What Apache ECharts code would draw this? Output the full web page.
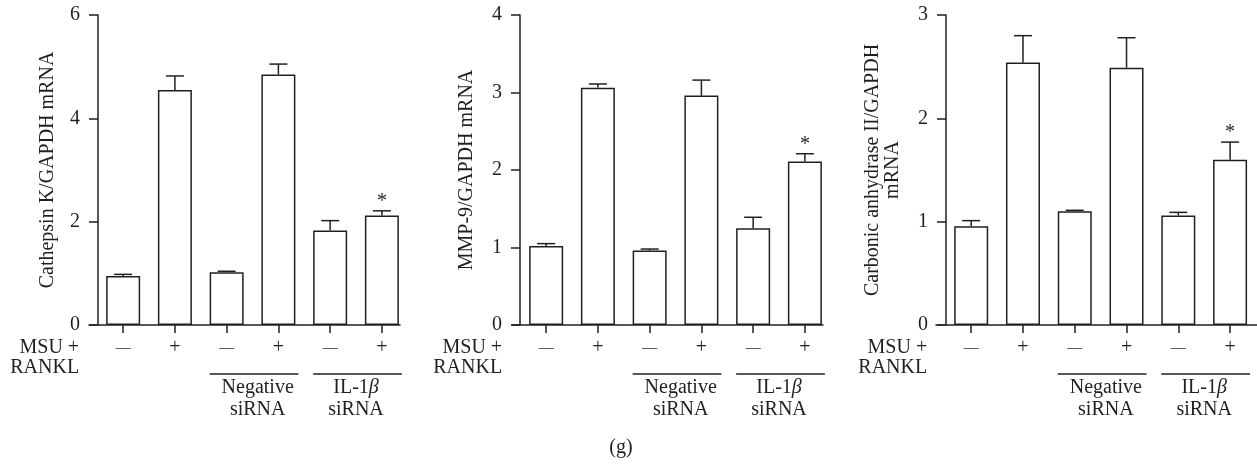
<!DOCTYPE html>
<html>
<head>
<meta charset="utf-8">
<script src="https://cdn.jsdelivr.net/npm/echarts@6/dist/echarts.min.js"></script>
<style>
  html, body { margin: 0; padding: 0; background: #fff; }
  #chart { width: 1257px; height: 465px; }
</style>
</head>
<body>
<div id="chart"></div>
<script>
// MSU + RANKL 处理 (每个面板6根柱子), m = 减号
var treatment = ['{m|—}', '+', '{m|—}', '+', '{m|—}', '+'];
var groupNames = ['Negative\nsiRNA', 'IL-1{it|β}\nsiRNA'];

// 各面板数值 (均值 / 误差)
var cathepsinK = [0.95, 4.55, 1.02, 4.85, 1.83, 2.12];
var cathepsinKErr = [0.03, 0.27, 0.02, 0.20, 0.19, 0.09];
var mmp9 = [1.02, 3.06, 0.96, 2.96, 1.25, 2.11];
var mmp9Err = [0.03, 0.05, 0.02, 0.20, 0.14, 0.10];
var carbonicAnhydrase = [0.955, 2.54, 1.10, 2.49, 1.06, 1.60];
var carbonicAnhydraseErr = [0.055, 0.26, 0.01, 0.29, 0.03, 0.17];
var significant = [0, 0, 0, 0, 0, 1];

// y轴
var yTitles = ['Cathepsin K/GAPDH mRNA', 'MMP-9/GAPDH mRNA', 'Carbonic anhydrase II/GAPDH\nmRNA'];
var yMax = [6, 4, 3];
var yInterval = [2, 1, 1];

var values = [cathepsinK, mmp9, carbonicAnhydrase];
var errors = [cathepsinKErr, mmp9Err, carbonicAnhydraseErr];

// 面板布局
var panels = [
  { left: 89, width: 311, min: -0.66, max: 5.35, shift: -9, nameGap: 40 },
  { left: 512, width: 311, min: -0.66, max: 5.35, shift: -8, nameGap: 43 },
  { left: 936, width: 321, min: -0.68, max: 5.52, shift: -10, nameGap: 43 }
];

var ink = '#231f20';
var font = 'Liberation Serif';
var fs = 20;
var idx = [0, 1, 2, 3, 4, 5];

function renderErr(params, api) {
  var x = api.value(0), v = api.value(1), e = api.value(2);
  var base = api.coord([x, v]);
  var top = api.coord([x, v + e]);
  var st = { stroke: ink, lineWidth: 1.5 };
  var children = [
    { type: 'line', shape: { x1: base[0], y1: base[1], x2: top[0], y2: top[1] }, style: st },
    { type: 'line', shape: { x1: top[0] - 9, y1: top[1], x2: top[0] + 9, y2: top[1] }, style: st }
  ];
  if (api.value(3)) {
    children.push({
      type: 'text', x: top[0], y: top[1] - 9,
      style: { text: '*', fill: ink, fontFamily: font, fontSize: fs, align: 'center', verticalAlign: 'middle' }
    });
  }
  return { type: 'group', children: children };
}

var grid = [], xAxis = [], yAxis = [], series = [];
panels.forEach(function (p, k) {
  grid.push({ left: p.left, width: p.width, top: 15, bottom: 140 });
  xAxis.push({
    type: 'value', gridIndex: k, min: p.min, max: p.max,
    splitLine: { show: false },
    axisLine: { show: true, lineStyle: { color: ink, width: 1.5 } },
    axisTick: { show: true, length: 8, customValues: idx, lineStyle: { color: ink, width: 1.5 } },
    axisLabel: {
      customValues: idx, margin: 13, color: ink, fontFamily: font, fontSize: fs, lineHeight: 20,
      formatter: function (v) { return treatment[Math.round(v)]; },
      rich: { m: { fontFamily: font, fontSize: 15, lineHeight: 20, color: ink } }
    }
  });
  yAxis.push({
    type: 'value', gridIndex: k, min: 0, max: yMax[k], interval: yInterval[k],
    offset: p.shift,
    name: yTitles[k], nameLocation: 'middle', nameGap: p.nameGap,
    nameTextStyle: { color: ink, fontFamily: font, fontSize: fs, lineHeight: 20 },
    splitLine: { show: false },
    axisLine: { show: true, onZero: false, lineStyle: { color: ink, width: 1.5 } },
    axisTick: { show: true, length: 9, lineStyle: { color: ink, width: 1.5 } },
    axisLabel: { margin: 18, color: ink, fontFamily: font, fontSize: fs }
  });
  series.push({
    type: 'bar', xAxisIndex: k, yAxisIndex: k, barWidth: 34, silent: true,
    itemStyle: { color: '#fff', borderColor: ink, borderWidth: 1.5 },
    data: values[k].map(function (v, i) { return [i, v]; })
  });
  series.push({
    type: 'custom', xAxisIndex: k, yAxisIndex: k, silent: true, z: 5,
    renderItem: renderErr,
    encode: { x: 0, y: 1 },
    data: values[k].map(function (v, i) { return [i, v, errors[k][i], significant[i]]; })
  });
});

var chart = echarts.init(document.getElementById('chart'));
chart.setOption({
  animation: false,
  backgroundColor: '#fff',
  grid: grid, xAxis: xAxis, yAxis: yAxis, series: series
});

// 下方的处理说明、分组横线和标签
var textStyle = { fill: ink, fontFamily: font, fontSize: fs, lineHeight: 20 };
var graphics = [];
panels.forEach(function (p, k) {
  var px = function (v) { return chart.convertToPixel({ xAxisIndex: k }, v); };
  graphics.push({
    type: 'text', x: px(0) - 44, y: 338,
    style: Object.assign({ text: 'MSU +\nRANKL', align: 'right', verticalAlign: 'top' }, textStyle)
  });
  [[2, 3, 2.6, 0], [4, 5, 4.5, 1]].forEach(function (g) {
    graphics.push({
      type: 'line', shape: { x1: px(g[0]) - 17, y1: 374, x2: px(g[1]) + 20, y2: 374 },
      style: { stroke: ink, lineWidth: 1.5 }
    });
    graphics.push({
      type: 'text', x: px(g[2]), y: 377,
      style: Object.assign({
        text: groupNames[g[3]], align: 'center', verticalAlign: 'top',
        rich: { it: { fontStyle: 'italic', fontFamily: font, fontSize: fs, fill: ink } }
      }, textStyle, { lineHeight: 22 })
    });
  });
});
graphics.push({
  type: 'text', x: 621, y: 448,
  style: Object.assign({ text: '(g)', align: 'center', verticalAlign: 'middle' }, textStyle)
});
chart.setOption({ graphic: graphics });
</script>
</body>
</html>
